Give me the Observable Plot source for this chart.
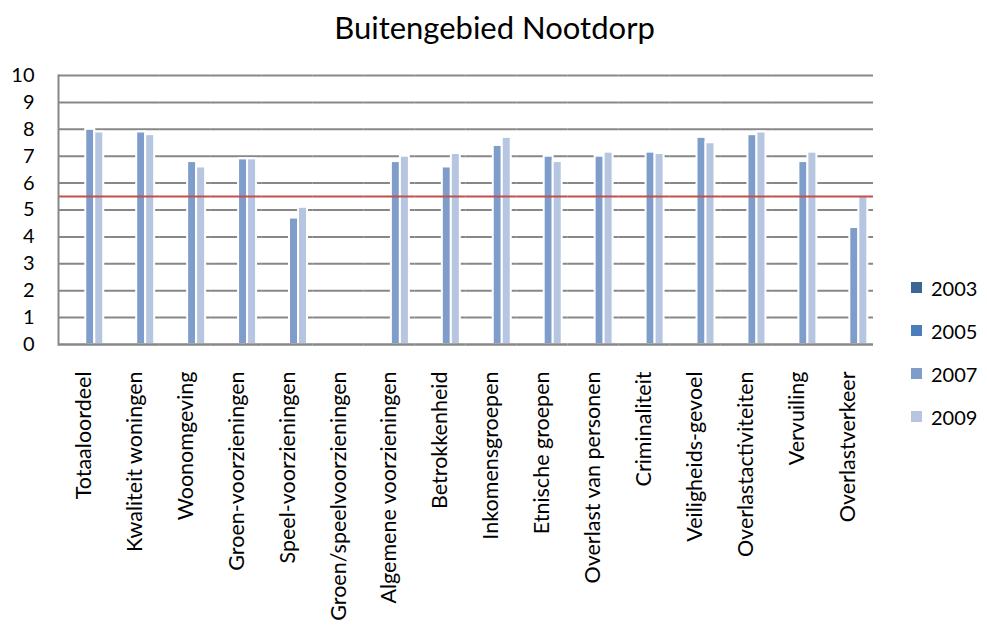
<!DOCTYPE html>
<html>
<head>
<meta charset="utf-8">
<script src="https://cdn.jsdelivr.net/npm/d3@7"></script>
<script src="https://cdn.jsdelivr.net/npm/@observablehq/plot@0.6"></script>
<style>
  html, body { margin: 0; padding: 0; background: #fff; overflow: hidden; font-family: Lato, "Open Sans", sans-serif; }
  #wrap { position: relative; width: 987px; height: 627px; overflow: hidden; }
  #title { height: 55px; line-height: 55px; text-align: center; font-size: 31px; color: #000; padding-left: 2px; }
  #chart svg { display: block; }
  #legend { position: absolute; left: 911px; top: 276px; }
  .li { height: 43px; display: flex; align-items: flex-start; font-size: 20px; color: #000; }
  .sw { width: 11px; height: 11px; margin-top: 6px; margin-right: 9px; }
</style>
</head>
<body>
<div id="wrap">
  <div id="title">Buitengebied Nootdorp</div>
  <div id="chart"></div>
  <div id="legend"></div>
</div>
<script>
const categories = [
  "Totaaloordeel", "Kwaliteit woningen", "Woonomgeving", "Groen-voorzieningen",
  "Speel-voorzieningen", "Groen/speelvoorzieningen", "Algemene voorzieningen",
  "Betrokkenheid", "Inkomensgroepen", "Etnische groepen", "Overlast van personen",
  "Criminaliteit", "Veiligheids-gevoel", "Overlastactiviteiten", "Vervuiling", "Overlastverkeer"
];
const years = ["2003", "2005", "2007", "2009"];
const colors = ["#3d6696", "#4a7ebb", "#7f9dcb", "#b6c5e0"];
const v2003 = [null, null, null, null, null, null, null, null, null, null, null, null, null, null, null, null];
const v2005 = [null, null, null, null, null, null, null, null, null, null, null, null, null, null, null, null];
const v2007 = [8.0, 7.9, 6.8, 6.9, 4.7, null, 6.8, 6.6, 7.4, 7.0, 7.0, 7.15, 7.7, 7.8, 6.8, 4.35];
const v2009 = [7.9, 7.8, 6.6, 6.9, 5.1, null, 7.0, 7.1, 7.7, 6.8, 7.15, 7.1, 7.5, 7.9, 7.15, 5.5];
const threshold = 5.5;
const yTicks = [0, 1, 2, 3, 4, 5, 6, 7, 8, 9, 10];

const series = [v2003, v2005, v2007, v2009];
const rows = [];
categories.forEach((c, i) => {
  years.forEach((y, j) => {
    const v = series[j][i];
    if (v != null) rows.push({category: c, year: y, value: v});
  });
});

const chart = Plot.plot({
  width: 987,
  height: 572,
  marginLeft: 58,
  marginRight: 114,
  marginTop: 20,
  marginBottom: 283,
  facet: {marginLeft: 0, marginRight: 0, marginTop: 0, marginBottom: 0},
  style: {fontFamily: "Lato, 'Open Sans', sans-serif", color: "#000", background: "#fff"},
  fx: {domain: categories, paddingInner: 0, paddingOuter: 0, round: false, label: null},
  x: {domain: years, paddingInner: 0, paddingOuter: 0.83, align: 0.62, round: false, axis: null},
  y: {domain: [0, 10], label: null},
  color: {domain: years, range: colors},
  marks: [
    Plot.ruleY(yTicks.slice(1), {stroke: "#878787", strokeWidth: 2}),
    Plot.barY(rows, {fx: "category", x: "year", y: "value", fill: "year", stroke: "white", strokeWidth: 2}),
    Plot.ruleY([threshold], {stroke: "#c0504d", strokeWidth: 2}),
    Plot.ruleY(categories, {fx: d => d, y: () => 0, stroke: "#878787", strokeWidth: 2.5}),
    Plot.frame({anchor: "left", stroke: "#878787", strokeWidth: 2, facetAnchor: "left"}),
    Plot.axisY({ticks: yTicks, tickSize: 0, tickPadding: 24, fontSize: 20, tickFormat: d => String(d), label: null}),
    Plot.axisFx({anchor: "bottom", tickRotate: -90, tickSize: 0, tickPadding: 27, fontSize: 21.5, label: null})
  ]
});
document.getElementById("chart").appendChild(chart);

const legend = document.getElementById("legend");
years.forEach((y, j) => {
  const d = document.createElement("div");
  d.className = "li";
  d.innerHTML = `<div class="sw" style="background:${colors[j]}"></div><span>${y}</span>`;
  legend.appendChild(d);
});
</script>
</body>
</html>
